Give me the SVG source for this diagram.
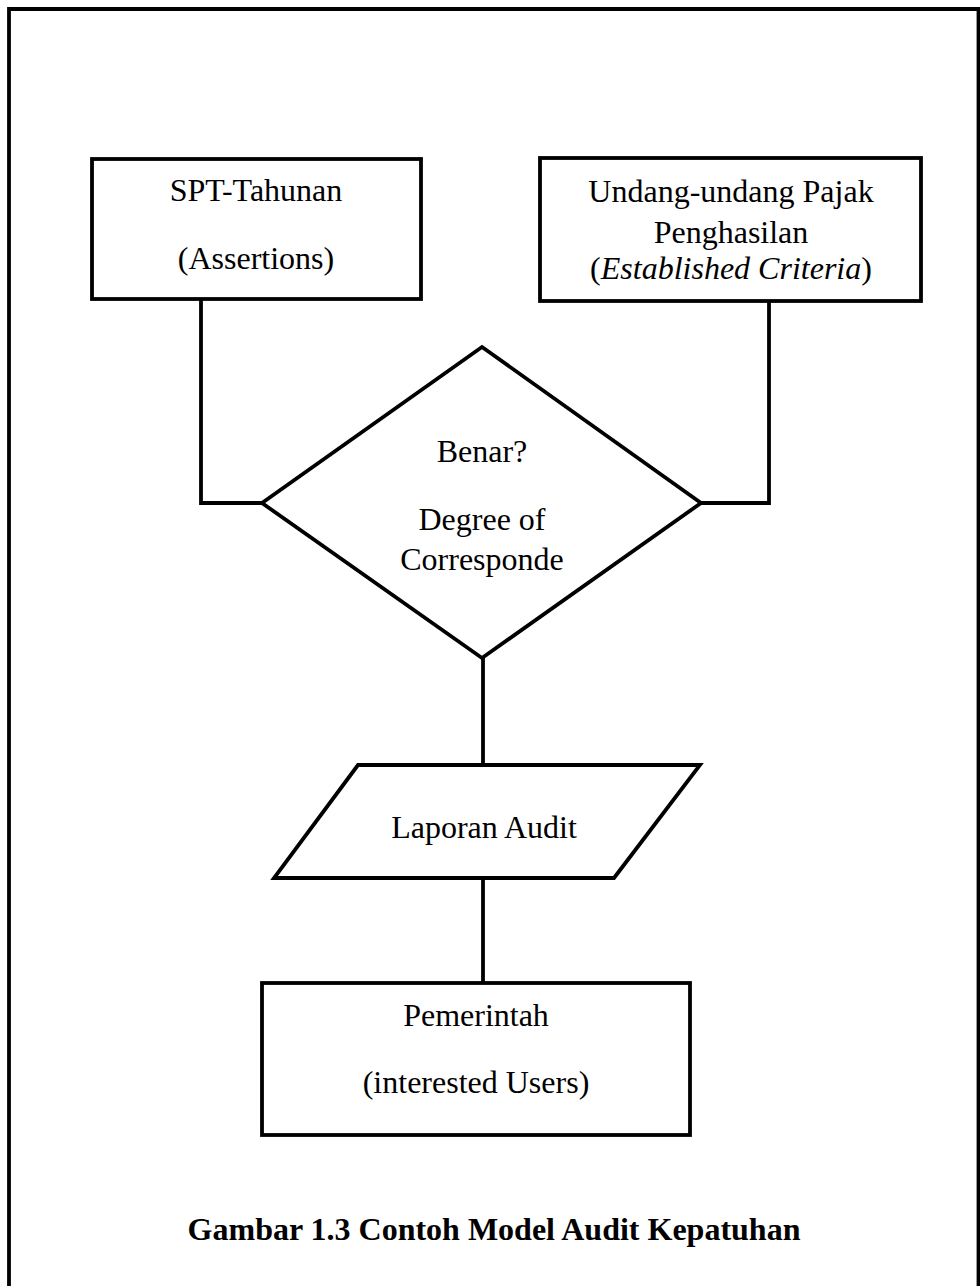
<svg xmlns="http://www.w3.org/2000/svg" width="980" height="1286" viewBox="0 0 980 1286">
<style>
.shape{fill:#fff;stroke:#000;stroke-width:3.8}
.frame{fill:none;stroke:#000;stroke-width:3.8}
.conn{fill:none;stroke:#000;stroke-width:3.8}
text{font-family:"Liberation Serif","Times New Roman",serif;font-size:32px;fill:#000;text-anchor:middle}
.title{font-weight:bold}
</style>
<rect width="980" height="1286" fill="#fff"/>
<path class="frame" d="M9,1300 V9 H978.5 V1300"/>
<g id="connectors">
<polyline class="conn" points="201,299 201,503 262,503"/>
<polyline class="conn" points="769,301 769,503 701,503"/>
<line class="conn" x1="483" y1="658" x2="483" y2="765"/>
<line class="conn" x1="483" y1="878" x2="483" y2="983"/>
</g>
<g id="spt">
<rect class="shape" x="92" y="159" width="329" height="140"/>
<text x="256" y="201">SPT-Tahunan</text>
<text x="256" y="269">(Assertions)</text>
</g>
<g id="uu">
<rect class="shape" x="540" y="158" width="381" height="143"/>
<text x="731" y="202">Undang-undang Pajak</text>
<text x="731" y="243">Penghasilan</text>
<text x="731" y="279">(<tspan font-style="italic">Established Criteria</tspan>)</text>
</g>
<g id="benar">
<polygon class="shape" points="482,347 701,503 482,658 262,503"/>
<text x="482" y="462">Benar?</text>
<text x="482" y="530">Degree of</text>
<text x="482" y="570">Corresponde</text>
</g>
<g id="laporan">
<polygon class="shape" points="358,765 700,765 614,878 274,878"/>
<text x="484" y="838">Laporan Audit</text>
</g>
<g id="pemerintah">
<rect class="shape" x="262" y="983" width="428" height="152"/>
<text x="476" y="1026">Pemerintah</text>
<text x="476" y="1093">(interested Users)</text>
</g>
<g id="caption">
<text class="title" x="494" y="1240">Gambar 1.3 Contoh Model Audit Kepatuhan</text>
</g>
</svg>
